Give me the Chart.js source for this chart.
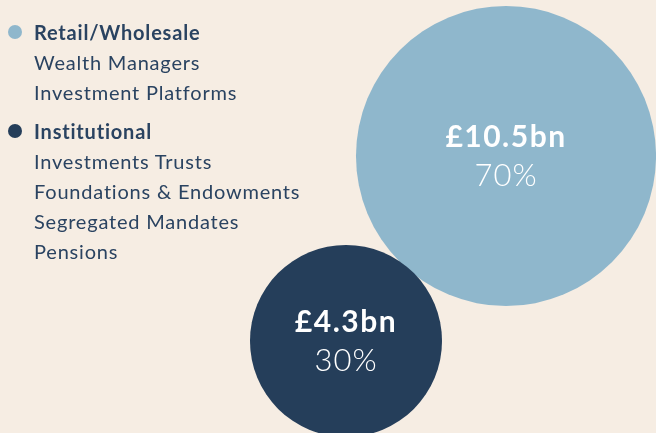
<!DOCTYPE html>
<html>
<head>
<meta charset="utf-8">
<script src="https://cdn.jsdelivr.net/npm/chart.js@4.4.0/dist/chart.umd.min.js"></script>
<style>
  html, body { margin: 0; padding: 0; background: #f6ede3; }
  #wrap { position: relative; width: 656px; height: 433px; overflow: hidden; }
  #myChart { position: absolute; left: 0; top: 0; }
  #legend { position: absolute; left: 0; top: 17px; font-family: Lato, sans-serif; color: #2a4361; font-size: 20px; letter-spacing: 0.8px; }
  .grp { margin-bottom: 9px; }
  .row { height: 30px; line-height: 30px; padding-left: 34px; position: relative; white-space: nowrap; }
  .head { font-weight: bold; }
  .dot { position: absolute; left: 8px; top: 8px; width: 14px; height: 14px; border-radius: 50%; }
</style>
</head>
<body>
<div id="wrap">
  <canvas id="myChart" width="656" height="433"></canvas>
  <div id="legend"></div>
</div>
<script>
const categories = ['Retail/Wholesale', 'Institutional'];
const subTypes = [
  ['Wealth Managers', 'Investment Platforms'],
  ['Investments Trusts', 'Foundations & Endowments', 'Segregated Mandates', 'Pensions']
];
const aumBn = [10.5, 4.3];
const share = [70, 30];
const colors = ['#8fb7cc', '#253e5a'];

// where each bubble sits on the (hidden) axes
const bubbleX = [506, 346];
const bubbleY = [277, 92];
const radiusScale = 46.3; // px per sqrt(bn), so area follows value

// legend
const legend = document.getElementById('legend');
categories.forEach((c, i) => {
  let html = '<div class="grp"><div class="row head"><span class="dot" style="background:' + colors[i] + '"></span>' + c + '</div>';
  subTypes[i].forEach(s => { html += '<div class="row">' + s.replace('&', '&amp;') + '</div>'; });
  legend.innerHTML += html + '</div>';
});

const bubbleLabels = {
  id: 'bubbleLabels',
  afterDatasetsDraw(chart) {
    const c = chart.ctx;
    c.save();
    c.fillStyle = '#ffffff';
    c.textAlign = 'center';
    c.textBaseline = 'alphabetic';
    chart.data.datasets.forEach((ds, i) => {
      const el = chart.getDatasetMeta(i).data[0];
      c.letterSpacing = '1.5px';
      c.font = 'bold 30px Lato';
      c.fillText('£' + aumBn[i] + 'bn', el.x, el.y - 9);
      c.letterSpacing = '1px';
      c.font = '300 31px Lato';
      c.fillText(share[i] + '%', el.x, el.y + 30);
    });
    c.restore();
  }
};

const ctx = document.getElementById('myChart');

new Chart(ctx, {
  type: 'bubble',
  data: {
    datasets: categories.map((c, i) => ({
      label: c,
      data: [{ x: bubbleX[i], y: bubbleY[i], r: radiusScale * Math.sqrt(aumBn[i]) }],
      backgroundColor: colors[i],
      borderWidth: 0,
      hoverBorderWidth: 0,
      order: categories.length - i,
      clip: false
    }))
  },
  options: {
    responsive: false,
    animation: false,
    layout: { padding: 0, autoPadding: false },
    plugins: { legend: { display: false }, tooltip: { enabled: false } },
    scales: {
      x: { display: false, min: 0, max: 656 },
      y: { display: false, min: 0, max: 433 }
    }
  },
  plugins: [bubbleLabels]
});
</script>
</body>
</html>
